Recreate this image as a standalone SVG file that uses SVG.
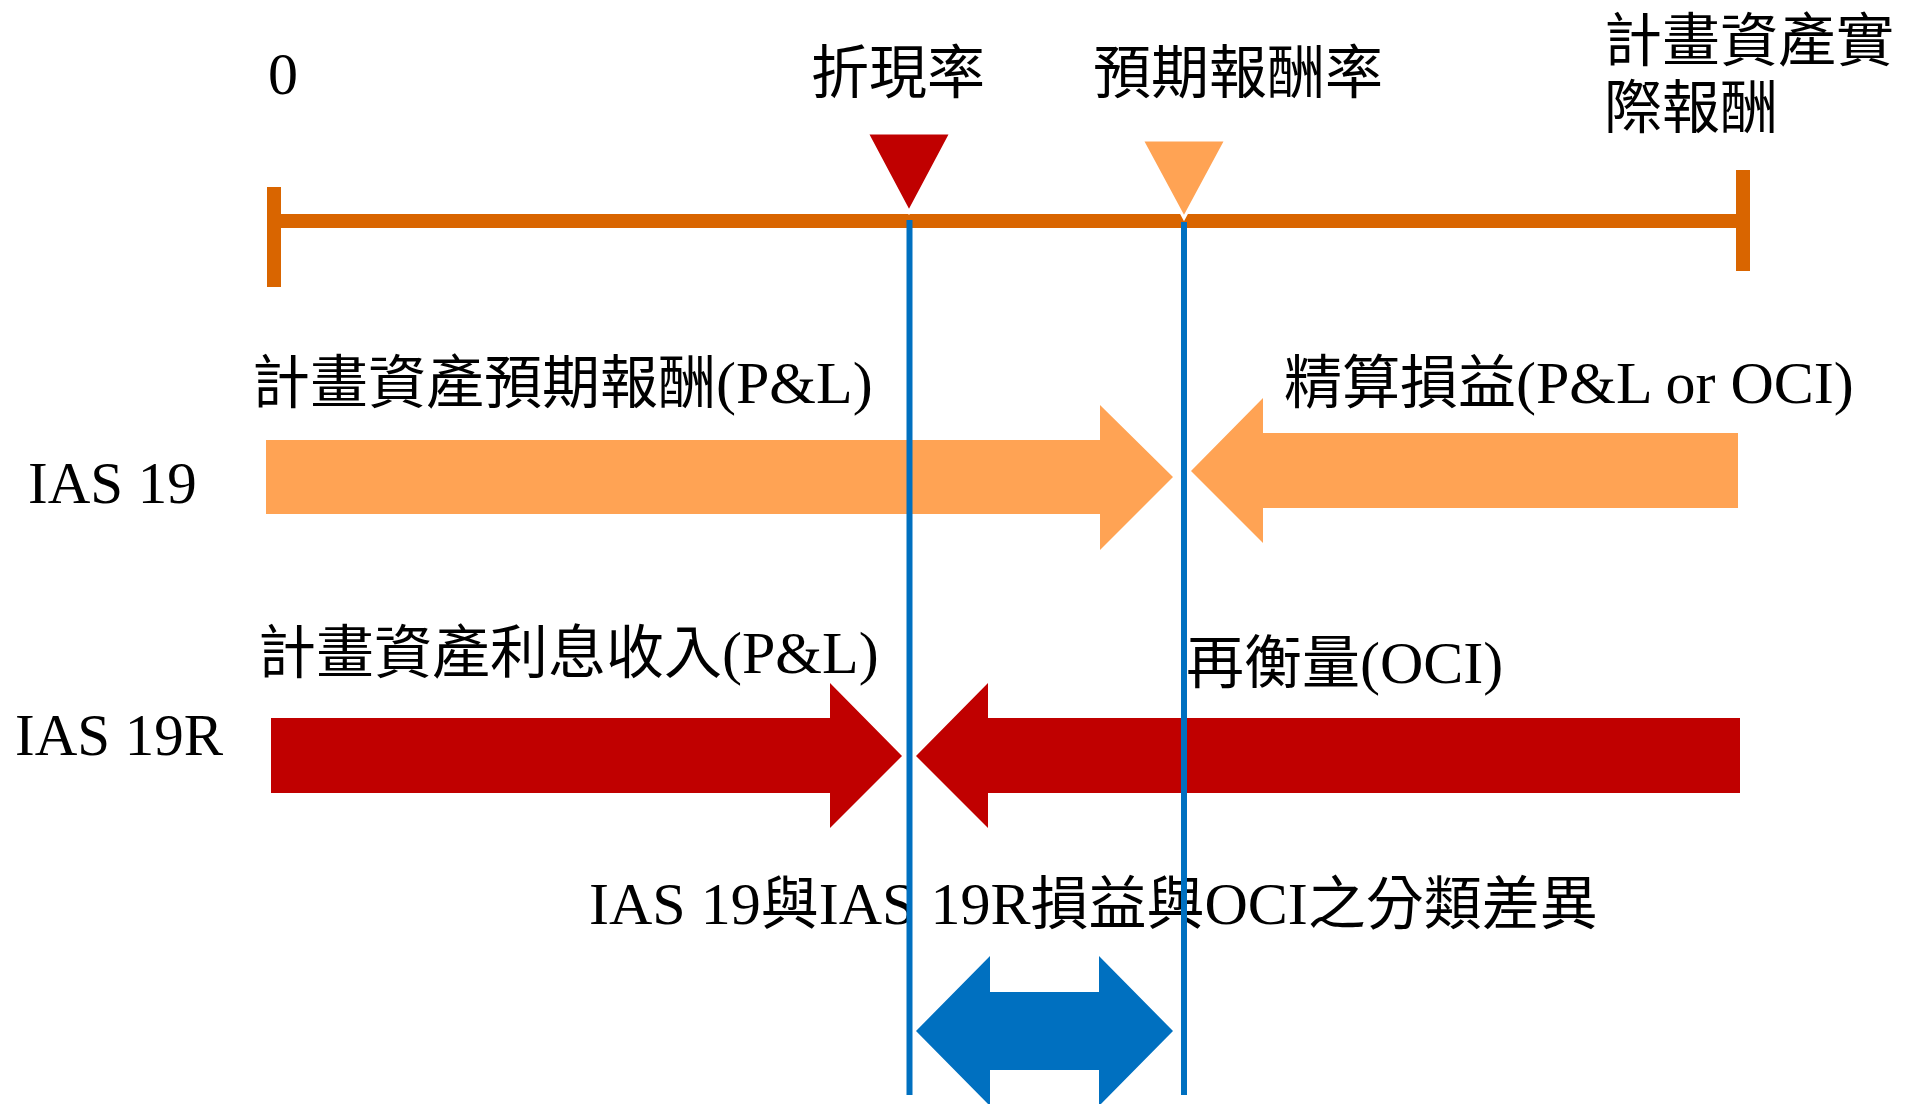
<svg xmlns="http://www.w3.org/2000/svg" width="1915" height="1104" viewBox="0 0 1915 1104">
<style>
text { font-family: "Liberation Serif", "Noto Sans CJK TC", serif; font-size: 60px; fill: #000; }
.c { font-size: 58px; }
.axis { fill: #D96500; }
.lt { fill: #FFA354; }
.dk { fill: #C00000; }
.bl { fill: #0070C0; }
.vline { stroke: #0070C0; stroke-width: 6; fill: none; }
.tri { stroke: #FFFFFF; stroke-width: 3; }
</style>
<rect width="1915" height="1104" fill="#FFFFFF"/>

<g id="axis">
  <rect class="axis" x="267" y="214" width="1483" height="14"/>
  <rect class="axis" x="267" y="187" width="14" height="100"/>
  <rect class="axis" x="1736" y="170" width="14" height="101"/>
  <text x="268" y="94">0</text>
</g>

<g id="discount-rate">
  <polygon class="dk tri" points="867,133 951,133 909,212"/>
  <text class="c" x="811" y="93">折現率</text>
</g>

<g id="expected-return-rate">
  <polygon class="lt tri" points="1142,140 1226,140 1184,218"/>
  <text class="c" x="1093" y="93">預期報酬率</text>
</g>

<g id="actual-return">
  <text class="c" x="1604" y="61">計畫資產實</text>
  <text class="c" x="1604" y="128">際報酬</text>
</g>

<g id="ias19-label">
  <text x="28" y="503" style="font-size:59px">IAS 19</text>
</g>

<g id="ias19-expected">
  <path class="lt" d="M266,440 H1100 V405 L1173,477 L1100,550 V514 H266 Z"/>
  <text x="252" y="403"><tspan class="c">計畫資產預期報酬</tspan>(P&amp;L)</text>
</g>

<g id="ias19-actuarial">
  <path class="lt" d="M1191,471 L1263,398 V433 H1738 V508 H1263 V543 Z"/>
  <text x="1284" y="403"><tspan class="c">精算損益</tspan>(P&amp;L or OCI)</text>
</g>

<g id="ias19r-label">
  <text x="15" y="755" style="font-size:59px">IAS 19R</text>
</g>

<g id="ias19r-interest">
  <path class="dk" d="M271,718 H830 V683 L902,756 L830,828 V793 H271 Z"/>
  <text x="258" y="673"><tspan class="c">計畫資產利息收入</tspan>(P&amp;L)</text>
</g>

<g id="ias19r-remeasure">
  <path class="dk" d="M916,756 L988,683 V718 H1740 V793 H988 V828 Z"/>
  <text x="1186" y="683"><tspan class="c">再衡量</tspan>(OCI)</text>
</g>

<g id="difference">
  <text x="589" y="924">IAS 19<tspan class="c">與</tspan>IAS 19R<tspan class="c">損益與</tspan>OCI<tspan class="c">之分類差異</tspan></text>
  <path class="bl" d="M916,1031 L990,956 V992 H1099 V956 L1173,1031 L1099,1106 V1070 H990 V1106 Z"/>
</g>

<g id="connectors">
  <line class="vline" x1="909.5" y1="220" x2="909.5" y2="1095"/>
  <line class="vline" x1="1184" y1="222" x2="1184" y2="1095"/>
</g>
</svg>
